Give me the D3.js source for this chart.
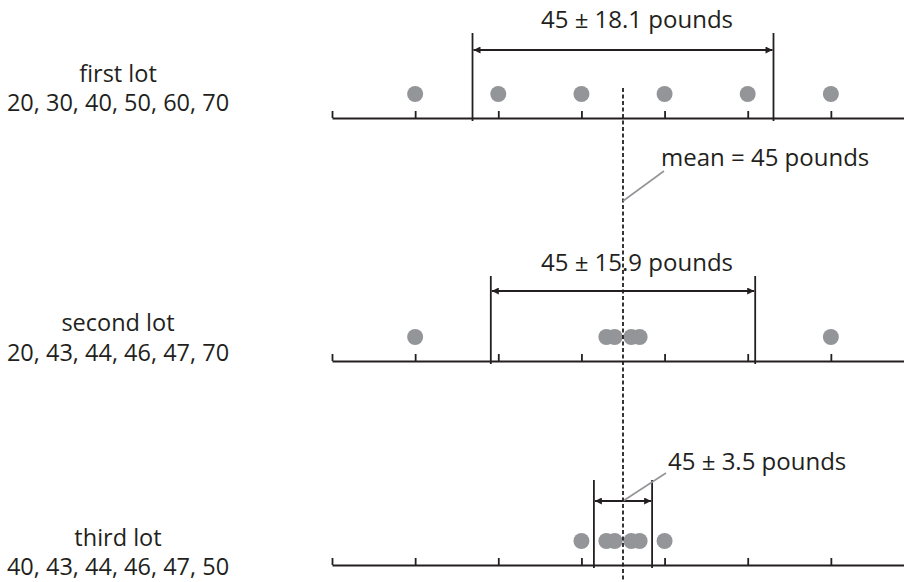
<!DOCTYPE html>
<html>
<head>
<meta charset="utf-8">
<script src="https://cdn.jsdelivr.net/npm/d3@7"></script>
<style>
  html, body { margin: 0; padding: 0; background: #fff; }
  svg { display: block; }
  text { font-family: "Open Sans", "Noto Sans", sans-serif; fill: #231f20; }
</style>
</head>
<body>
<script>
// ---- data ----
const lotNames = ["first lot", "second lot", "third lot"];
const lotValues = [
  [20, 30, 40, 50, 60, 70],
  [20, 43, 44, 46, 47, 70],
  [40, 43, 44, 46, 47, 50]
];
const lotMean = 45;
const lotSD = [18.1, 15.9, 3.5];
const tickValues = [10, 20, 30, 40, 50, 60, 70];
const unit = "pounds";

// ---- layout ----
const W = 904, H = 582;
const axisY = [118, 361, 565];
const arrowOff = [68, 70, 64];
const nameY = [82, 331, 546];
const valsY = [111, 361, 575];
const ink = "#231f20", dotGray = "#939598";
const fs = 24, fsLeft = 23.5;

const svg = d3.select("body").append("svg").attr("width", W).attr("height", H);

const x = d3.scaleLinear().domain([10, 80]).range([332, 914]);

svg.append("defs").selectAll("marker").data(["start", "end"]).join("marker")
  .attr("id", d => "arr-" + d)
  .attr("viewBox", "0 0 10 10")
  .attr("refX", 10).attr("refY", 5)
  .attr("markerWidth", 9).attr("markerHeight", 7)
  .attr("markerUnits", "userSpaceOnUse")
  .attr("orient", d => d === "start" ? "auto-start-reverse" : "auto")
  .append("path").attr("d", "M0,0L10,5L0,10z").attr("fill", ink);

lotNames.forEach((name, i) => {
  const y0 = axisY[i];
  const g = svg.append("g");

  // axis line with upward ticks
  const ax = g.append("g").attr("transform", `translate(0,${y0})`)
    .call(d3.axisTop(x).tickValues(tickValues).tickSize(7).tickSizeOuter(0).tickFormat(""));
  ax.select(".domain").attr("stroke", ink).attr("stroke-width", 2.2);
  ax.selectAll(".tick line").attr("stroke", ink).attr("stroke-width", 1.8);

  // left labels
  g.append("text").attr("x", 118).attr("y", nameY[i]).attr("text-anchor", "middle")
    .attr("font-size", fsLeft).text(name);
  g.append("text").attr("x", 118).attr("y", valsY[i]).attr("text-anchor", "middle")
    .attr("font-size", fsLeft).text(lotValues[i].join(", "));

  // interval bracket
  const lo = lotMean - lotSD[i], hi = lotMean + lotSD[i];
  [lo, hi].forEach(v => {
    g.append("line").attr("x1", x(v)).attr("x2", x(v))
      .attr("y1", y0 - 85).attr("y2", y0 + 3)
      .attr("stroke", ink).attr("stroke-width", 1.8);
  });
  const ay = y0 - arrowOff[i];
  g.append("line").attr("x1", x(lo) + 1).attr("x2", x(hi) - 1)
    .attr("y1", ay).attr("y2", ay)
    .attr("stroke", ink).attr("stroke-width", 2.2)
    .attr("marker-start", "url(#arr-start)").attr("marker-end", "url(#arr-end)");

  // dots
  g.selectAll("circle").data(lotValues[i]).join("circle")
    .attr("cx", d => x(d)).attr("cy", y0 - 24).attr("r", 8)
    .attr("fill", dotGray);

  // interval label
  const label = `${lotMean} ± ${lotSD[i]} ${unit}`;
  if (i < 2) {
    g.append("text").attr("x", x(lotMean) + 14).attr("y", y0 - 90)
      .attr("text-anchor", "middle").attr("font-size", fs).text(label);
  } else {
    g.append("line").attr("x1", x(lotMean) + 43).attr("y1", y0 - 92)
      .attr("x2", x(lotMean)).attr("y2", ay)
      .attr("stroke", dotGray).attr("stroke-width", 1.6);
    g.append("text").attr("x", x(lotMean) + 45).attr("y", y0 - 95)
      .attr("font-size", fs).text(label);
  }
});

// mean dashed line
svg.append("line").attr("x1", x(lotMean)).attr("x2", x(lotMean))
  .attr("y1", 88).attr("y2", H)
  .attr("stroke", ink).attr("stroke-width", 1.8).attr("stroke-dasharray", "4,2.5");

// mean annotation
svg.append("line").attr("x1", x(lotMean) + 41).attr("y1", 171)
  .attr("x2", x(lotMean)).attr("y2", 201)
  .attr("stroke", dotGray).attr("stroke-width", 1.6);
svg.append("text").attr("x", x(lotMean) + 38).attr("y", 166)
  .attr("font-size", fs).text(`mean = ${lotMean} ${unit}`);
</script>
</body>
</html>
